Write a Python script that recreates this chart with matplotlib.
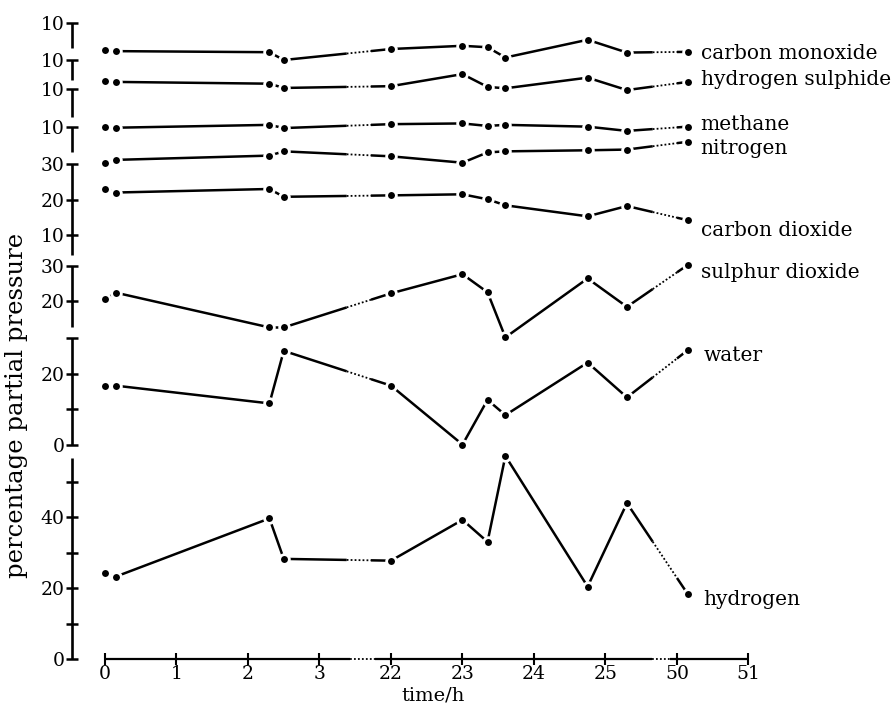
import numpy as np
import matplotlib
matplotlib.use("Agg")
import matplotlib.pyplot as plt

plt.rcParams["font.family"] = ["DejaVu Serif"]

# ---------------- data ----------------
times = [0, 0.15, 2.3, 2.5, 22.0, 23.0, 23.35, 23.6, 24.75, 25.3, 50.15]

carbon_monoxide = [12.8, 12.5, 12.2, 10.0, 13.1, 14.0, 13.6, 10.7, 15.7, 12.1, 12.3]
hydrogen_sulphide = [12.3, 12.0, 11.5, 10.3, 10.8, 14.2, 10.6, 10.2, 13.2, 9.7, 12.0]
methane = [10.0, 9.8, 10.6, 9.7, 10.8, 11.0, 10.3, 10.6, 10.1, 8.9, 10.1]
nitrogen = [30.4, 31.3, 32.5, 33.7, 32.3, 30.5, 33.4, 33.7, 34.0, 34.2, 36.4]
carbon_dioxide = [23.1, 22.1, 23.1, 20.9, 21.3, 21.6, 20.2, 18.5, 15.4, 18.3, 14.3]
sulphur_dioxide = [20.5, 22.4, 12.6, 12.6, 22.2, 27.6, 22.5, 9.8, 26.4, 18.4, 30.2]
water = [16.6, 16.6, 11.6, 26.4, 16.6, 0.0, 12.6, 8.3, 23.1, 13.3, 26.6]
hydrogen = [24.1, 23.2, 39.6, 28.2, 27.7, 39.2, 33.0, 57.2, 20.4, 43.9, 18.3]

x_tick_hours = [0, 1, 2, 3, 22, 23, 24, 25, 50, 51]

series_names = ["carbon monoxide", "hydrogen sulphide", "methane", "nitrogen",
                "carbon dioxide", "sulphur dioxide", "water", "hydrogen"]
series_values = [carbon_monoxide, hydrogen_sulphide, methane, nitrogen,
                 carbon_dioxide, sulphur_dioxide, water, hydrogen]

# ---------------- layout of the broken axes ----------------
# each sub-axis: baseline offset (in stacked units), tick values/labels, segment bounds
panels = [
    dict(offset=169.15, ticks=[(10, "10")], bounds=(2.95, 10)),
    dict(offset=158.73, ticks=[(10, "10")], bounds=(4.4, 10)),
    dict(offset=150.56, ticks=[(10, "10")], bounds=(2.1, 10)),
    dict(offset=139.86, ticks=[(10, "10")], bounds=(3.0, 10)),
    dict(offset=109.3, ticks=[(30, "30"), (20, "20"), (10, "10")], bounds=(4.5, 30)),
    dict(offset=80.8, ticks=[(30, "30"), (20, "20")], bounds=(12.6, 30)),
    dict(offset=60.4, ticks=[(30, ""), (20, "20"), (10, ""), (0, "0")], bounds=(0, 30)),
    dict(offset=0.0, ticks=[(50, ""), (40, "40"), (30, ""), (20, "20"), (10, ""), (0, "0")],
         bounds=(0, 56.6)),
]
series_panel = [1, 2, 3, 4, 4, 5, 6, 7]
label_pos = [(8.33, 170.7), (8.33, 163.1), (8.33, 150.7), (8.33, 143.7),
             (8.33, 120.8), (8.33, 109.0), (8.37, 85.6), (8.37, 16.9)]

gap_series = [(3.38, 3.72), (7.66, 8.0)]
gap_axis = [(3.43, 3.78), (7.65, 7.9)]


def to_axis(t):
    t = np.asarray(t, dtype=float)
    return np.where(t <= 3.5, t, np.where(t < 35, t - 18, t - 42))


fig = plt.figure(figsize=(8.95, 7.06), dpi=100)
ax = fig.add_axes([69.25 / 895, (706 - 676.75) / 706, 715 / 895, 674.5 / 706])
ax.set_xlim(-0.5, 9.5)
ax.set_ylim(-5, 185)
for s in ax.spines.values():
    s.set_visible(False)

yaxis_x = -0.46
ax.spines["left"].set_position(("data", yaxis_x))
ax.spines["bottom"].set_position(("data", 0))

# y axis pieces and ticks
ytick_pos, ytick_lab = [], []
for p in panels:
    lo, hi = p["bounds"]
    ax.plot([yaxis_x, yaxis_x], [p["offset"] + lo, p["offset"] + hi], color="black",
            lw=1.9, solid_capstyle="butt", zorder=3, clip_on=False)
    for v, lab in p["ticks"]:
        ytick_pos.append(p["offset"] + v)
        ytick_lab.append(lab)
ax.set_yticks(ytick_pos, ytick_lab)
ax.tick_params(axis="y", direction="inout", length=9, width=1.8, pad=1, labelsize=13.5)

# x axis with dotted breaks
xt = to_axis(x_tick_hours)
ax.set_xticks(xt, [str(h) for h in x_tick_hours])
ax.tick_params(axis="x", direction="inout", length=8, width=1.5, pad=0.5, labelsize=13.5)
xs = [xt[0]]
for g0, g1 in gap_axis:
    xs += [g0, g1]
xs.append(xt[-1])
for i in range(len(xs) - 1):
    style = "-" if i % 2 == 0 else (0, (1, 1.2))
    ax.plot([xs[i], xs[i + 1]], [0, 0], color="black", lw=1.6 if i % 2 == 0 else 1.3,
            linestyle=style, solid_capstyle="butt", clip_on=False, zorder=3)


def draw_series(x, y):
    for i in range(len(x) - 1):
        x0, x1, y0, y1 = x[i], x[i + 1], y[i], y[i + 1]
        gap = None
        for g0, g1 in gap_series:
            if x0 < g0 and x1 > g1:
                gap = (g0, g1)
        if gap is None:
            ax.plot([x0, x1], [y0, y1], color="black", lw=1.8, solid_capstyle="butt", zorder=4)
        else:
            g0, g1 = gap
            yg0 = y0 + (y1 - y0) * (g0 - x0) / (x1 - x0)
            yg1 = y0 + (y1 - y0) * (g1 - x0) / (x1 - x0)
            ax.plot([x0, g0], [y0, yg0], color="black", lw=1.8, solid_capstyle="butt", zorder=4)
            ax.plot([g0, g1], [yg0, yg1], color="black", lw=1.3, linestyle=(0, (1, 1.2)), zorder=4)
            ax.plot([g1, x1], [yg1, y1], color="black", lw=1.8, solid_capstyle="butt", zorder=4)
    ax.plot(x, y, linestyle="none", marker="o", ms=7, mfc="black", mec="white", mew=2,
            zorder=5, clip_on=False)


xa = to_axis(times)
for name, vals, pi, (lx, ly) in zip(series_names, series_values, series_panel, label_pos):
    off = panels[pi]["offset"]
    ya = np.asarray(vals) + off
    draw_series(xa, ya)
    ax.text(lx, ly, name, fontsize=14.5, ha="left", va="center", clip_on=False)

fig.text(17 / 895, 1 - 405 / 706, "percentage partial pressure", rotation=90,
         ha="center", va="center", fontsize=17.5)
fig.text(433 / 895, 1 - 696 / 706, "time/h", ha="center", va="center", fontsize=14)

fig.savefig("out.png", dpi=100)
